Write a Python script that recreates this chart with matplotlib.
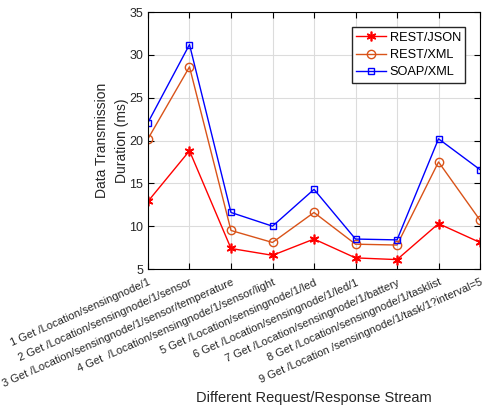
import numpy as np
import matplotlib.pyplot as plt

plt.rcParams['font.family'] = ['Liberation Sans', 'DejaVu Sans']

# request index and labels
streams = [1, 2, 3, 4, 5, 6, 7, 8, 9]
tick_labels = ['1 Get /Location/sensingnode/1',
               '2 Get /Location/sensingnode/1/sensor',
               '3 Get /Location/sensingnode/1/sensor/temperature',
               '4 Get  /Location/sensingnode/1/sensor/light',
               '5 Get /Location/sensingnode/1/led',
               '6 Get /Location/sensingnode/1/led/1',
               '7 Get /Location/sensingnode/1/battery',
               '8 Get /Location/sensingnode/1/tasklist',
               '9 Get /Location /sensingnode/1/task/1?interval=5']

rest_json = [12.9, 18.8, 7.4, 6.6, 8.5, 6.3, 6.1, 10.3, 8.1]
rest_xml = [20.2, 28.6, 9.5, 8.1, 11.6, 7.9, 7.8, 17.5, 10.7]
soap_xml = [22.1, 31.2, 11.6, 10.0, 14.3, 8.5, 8.4, 20.2, 16.6]

fig = plt.figure(figsize=(4.86, 4.07), dpi=100)
ax = fig.add_axes([0.3045, 0.339, 0.6832, 0.6315])

ax.plot(streams, rest_json, color='#ff0000', marker=(6, 2, 0), markersize=7, markeredgewidth=1.2,
        linewidth=1, label='REST/JSON')
ax.plot(streams, rest_xml, color='#D95319', marker='o', markersize=6, markerfacecolor='none', linewidth=1, label='REST/XML')
ax.plot(streams, soap_xml, color='#0000ff', marker='s', markersize=5, markerfacecolor='none', linewidth=1, label='SOAP/XML')

ax.set_xlim(1, 9)
ax.set_ylim(5, 35)
ax.set_yticks(np.arange(5, 36, 5))
ax.set_xticks(streams)
ax.set_xticklabels(tick_labels, rotation=24, ha='right', va='top', rotation_mode='anchor',
                   fontsize=8, color='#262626')
ax.tick_params(axis='y', labelsize=9, labelcolor='#262626')
ax.tick_params(direction='in', top=True, right=True, length=4)
ax.tick_params(axis='x', pad=6)
ax.grid(True, color='#dcdcdc', linewidth=0.8)
ax.set_axisbelow(True)

ax.set_ylabel('Data Transmission\nDuration (ms)', fontsize=10, color='#262626', linespacing=1.6)
ax.yaxis.set_label_coords(-0.056, 0.5)
ax.set_xlabel('Different Request/Response Stream', fontsize=10.5, color='#262626')
ax.xaxis.set_label_coords(0.5, -0.475)

leg = ax.legend(loc='upper right', fontsize=9.2, fancybox=False, framealpha=1,
                edgecolor='#262626', borderpad=0.35, handlelength=2.3, handletextpad=0.3,
                labelspacing=0.4, bbox_to_anchor=(0.975, 0.965))
leg.get_frame().set_linewidth(1)

fig.savefig('out.png', dpi=100)
